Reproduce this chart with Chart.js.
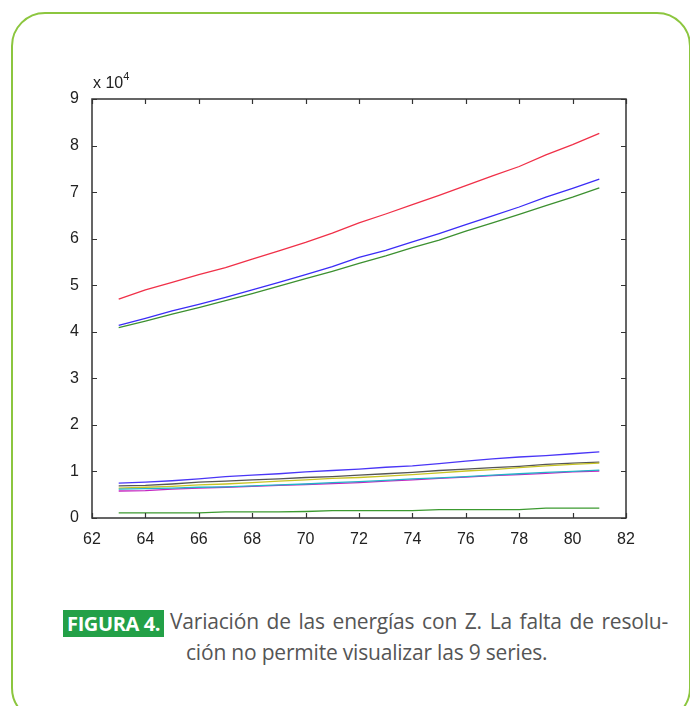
<!DOCTYPE html>
<html>
<head>
<meta charset="utf-8">
<script src="https://cdn.jsdelivr.net/npm/chart.js@4/dist/chart.umd.min.js"></script>
<style>
  html, body { margin: 0; padding: 0; background: #fff; }
  body { width: 690px; height: 706px; position: relative; overflow: hidden; }
  #frame {
    position: absolute; left: 11px; top: 12px; width: 680px; height: 710px;
    border: 2.5px solid #8cc63f; border-radius: 34px; box-sizing: border-box;
  }
  #plot { position: absolute; left: 0; top: 0; }
  #mult {
    position: absolute; left: 93px; top: 72px;
    font: 16px "Liberation Sans", Arial, sans-serif; color: #222;
  }
  #mult sup { font-size: 11px; position: relative; top: -2px; }
  .cap {
    position: absolute; font: 21px "Open Sans", sans-serif; color: #555;
    white-space: nowrap; letter-spacing: -0.2px;
  }
  .cap.full { width: 498px; text-align: justify; text-align-last: justify; white-space: normal; }
  #tag {
    position: absolute; top: 610px; right: 526px; height: 27px; line-height: 27px;
    background: #23a047; color: #fff; font: bold 20px "Open Sans", sans-serif;
    padding: 0 4px; letter-spacing: -0.4px;
  }
</style>
</head>
<body>
<div id="frame"></div>
<canvas id="plot" width="690" height="560"></canvas>
<div id="mult">x 10<sup>4</sup></div>
<div id="tag">FIGURA 4.</div>
<div class="cap full" style="left:170px; top:607px;">Variación de las energías con Z. La falta de resolu-</div>
<div class="cap" style="left:186px; top:638px;">ción no permite visualizar las 9 series.</div>
<script>
// Atomic number Z on the horizontal axis
const zValues = [63, 64, 65, 66, 67, 68, 69, 70, 71, 72, 73, 74, 75, 76, 77, 78, 79, 80, 81];

// Axis tick values
const xTickValues = [62, 64, 66, 68, 70, 72, 74, 76, 78, 80, 82];
const yTickValues = [0, 10000, 20000, 30000, 40000, 50000, 60000, 70000, 80000, 90000];

// Energies of the nine series
const serieB1 = [41400, 42900, 44500, 45900, 47400, 49000, 50600, 52300, 54000, 56000, 57500, 59300, 61100, 63000, 64900, 66800, 68900, 70800, 72800];
const serieG1 = [40900, 42300, 43800, 45200, 46700, 48200, 49800, 51400, 53000, 54700, 56300, 58100, 59700, 61600, 63400, 65200, 67100, 68900, 70900];
const serieR  = [47000, 49000, 50600, 52300, 53800, 55600, 57400, 59200, 61200, 63400, 65300, 67300, 69300, 71400, 73500, 75500, 78000, 80200, 82600];
const serieC  = [6200, 6300, 6400, 6600, 6700, 6900, 7100, 7300, 7600, 7800, 8100, 8400, 8600, 8900, 9200, 9500, 9800, 10000, 10300];
const serieM  = [5800, 5900, 6200, 6400, 6600, 6800, 7000, 7200, 7400, 7600, 7900, 8200, 8500, 8800, 9100, 9300, 9600, 9900, 10100];
const serieY  = [6400, 6600, 6800, 7100, 7300, 7600, 7900, 8200, 8500, 8700, 9000, 9300, 9700, 10100, 10400, 10800, 11200, 11500, 11800];
const serieK  = [6900, 7000, 7300, 7700, 7900, 8200, 8400, 8700, 8900, 9200, 9500, 9800, 10200, 10500, 10800, 11100, 11500, 11800, 12000];
const serieB2 = [7500, 7700, 8000, 8400, 8900, 9200, 9500, 9900, 10200, 10500, 10900, 11200, 11700, 12200, 12700, 13100, 13400, 13800, 14200];
const serieG2 = [1100, 1100, 1100, 1100, 1300, 1300, 1300, 1400, 1600, 1600, 1600, 1600, 1800, 1800, 1800, 1800, 2100, 2100, 2100];

const series = [
  { data: serieB1, color: '#3b2cf6' },
  { data: serieG1, color: '#3c9030' },
  { data: serieR,  color: '#f03048' },
  { data: serieC,  color: '#22b4c8' },
  { data: serieM,  color: '#c424c0' },
  { data: serieY,  color: '#c8c424' },
  { data: serieK,  color: '#555555' },
  { data: serieB2, color: '#4a36f6' },
  { data: serieG2, color: '#3c9a30' }
];

// Boxed axes with inward tick marks on all four sides
const boxAxes = {
  id: 'boxAxes',
  afterDatasetsDraw(chart) {
    const { ctx, chartArea: a, scales } = chart;
    const len = 5;
    ctx.save();
    ctx.strokeStyle = '#333';
    ctx.lineWidth = 1.5;
    ctx.strokeRect(a.left, a.top, a.right - a.left, a.bottom - a.top);
    ctx.lineWidth = 1.2;
    ctx.beginPath();
    xTickValues.forEach(v => {
      const x = Math.round(scales.x.getPixelForValue(v)) + 0.5;
      ctx.moveTo(x, a.bottom); ctx.lineTo(x, a.bottom - len);
      ctx.moveTo(x, a.top); ctx.lineTo(x, a.top + len);
    });
    yTickValues.forEach(v => {
      const y = Math.round(scales.y.getPixelForValue(v)) + 0.5;
      ctx.moveTo(a.left, y); ctx.lineTo(a.left + len, y);
      ctx.moveTo(a.right, y); ctx.lineTo(a.right - len, y);
    });
    ctx.stroke();
    ctx.restore();
  }
};

const tickFont = { family: '"Liberation Sans", Arial, sans-serif', size: 16 };

new Chart(document.getElementById('plot'), {
  type: 'line',
  data: {
    datasets: series.map(s => ({
      data: zValues.map((z, i) => ({ x: z, y: s.data[i] })),
      borderColor: s.color,
      borderWidth: 1.3,
      pointRadius: 0,
      tension: 0,
      fill: false
    }))
  },
  options: {
    responsive: false,
    animation: false,
    layout: { padding: { left: 0, top: 99, right: 64, bottom: 12 } },
    plugins: { legend: { display: false }, tooltip: { enabled: false } },
    scales: {
      x: {
        type: 'linear', min: 62, max: 82,
        afterBuildTicks: s => { s.ticks = xTickValues.map(v => ({ value: v })); },
        afterFit: s => { s.height = 30; },
        grid: { display: false },
        border: { display: false },
        ticks: { color: '#222', font: tickFont, padding: 4, maxRotation: 0, autoSkip: false }
      },
      y: {
        type: 'linear', min: 0, max: 90000,
        afterBuildTicks: s => { s.ticks = yTickValues.map(v => ({ value: v })); },
        afterFit: s => { s.width = 92; },
        grid: { display: false },
        border: { display: false },
        ticks: { color: '#222', font: tickFont, padding: 5, autoSkip: false,
                 callback: v => String(v / 10000) }
      }
    }
  },
  plugins: [boxAxes]
});
</script>
</body>
</html>
